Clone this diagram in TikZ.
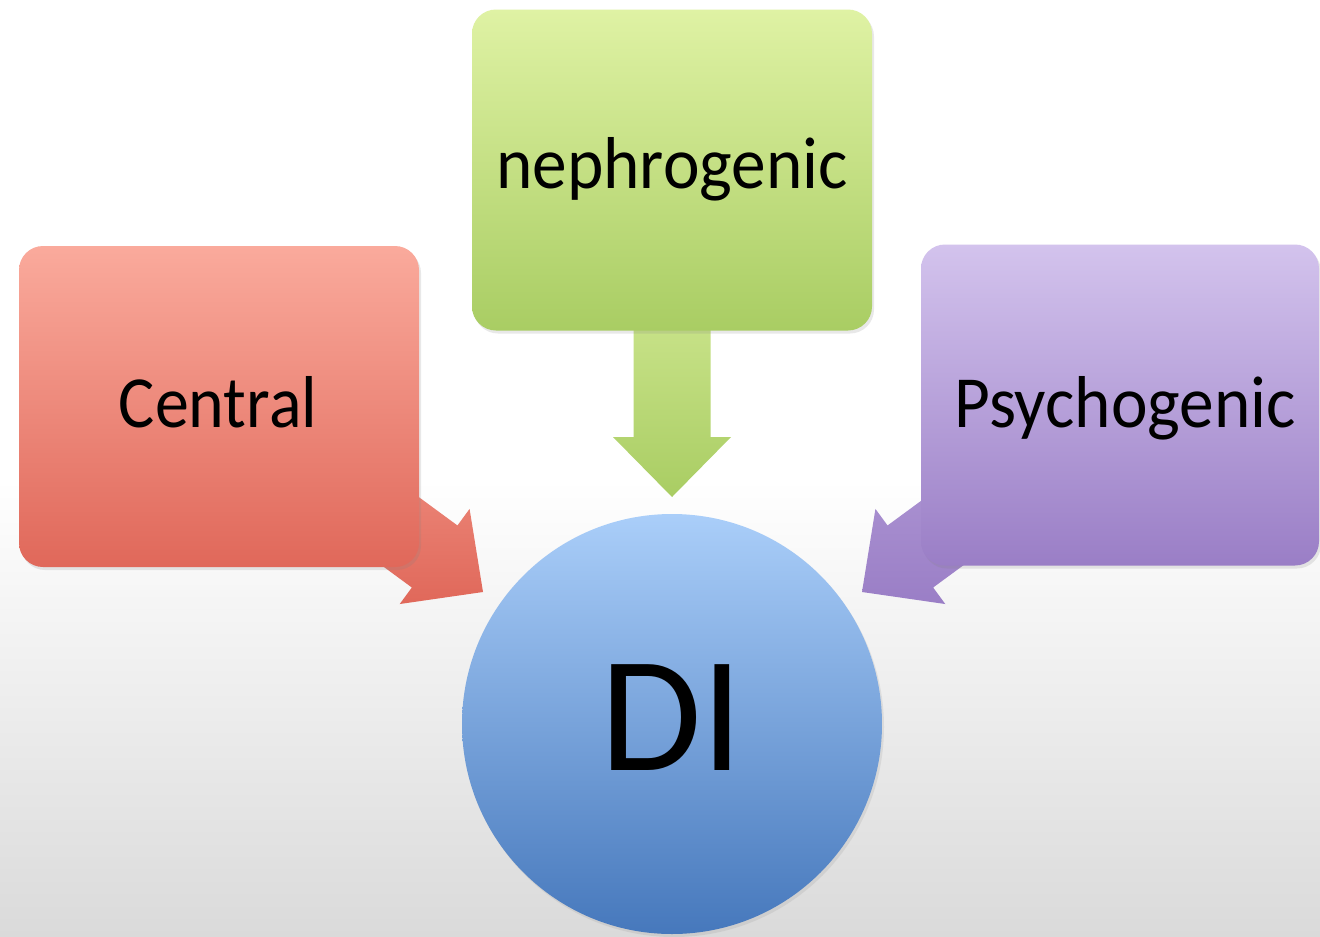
\documentclass[tikz,border=0pt]{standalone}
\usepackage{fontspec}
\setmainfont{Carlito}
\usetikzlibrary{shadows}
\definecolor{redT}{HTML}{FAAA9C}
\definecolor{redB}{HTML}{E0685A}
\definecolor{grnT}{HTML}{DFF2A4}
\definecolor{grnB}{HTML}{A9CD63}
\definecolor{purT}{HTML}{D3C3ED}
\definecolor{purB}{HTML}{9A7EC6}
\definecolor{bluT}{HTML}{AACEF9}
\definecolor{bluB}{HTML}{4678BC}
\definecolor{bgB}{HTML}{DADADA}
\tikzset{
  box/.style={rounded corners=24pt, minimum width=400pt, minimum height=321pt,
    inner sep=0pt, font=\fontsize{70}{80}\selectfont,
    drop shadow={opacity=0.18, shadow xshift=2pt, shadow yshift=-3pt}},
  lbl/.style={inner sep=0pt, font=\fontsize{70}{80}\selectfont},
  blockarrow/.style={draw=none},
}
\newcommand{\blockarrowshape}{(0,0) -- (-60,-59) -- (-60,-38.5) -- (-215,-38.5) -- (-215,38.5) -- (-60,38.5) -- (-60,59) -- cycle}
\begin{document}
\begin{tikzpicture}[x=1pt,y=-1pt]
\useasboundingbox (0,0) rectangle (1320,937);
% background
\fill[white] (0,0) rectangle (1320,480);
\shade[top color=white, bottom color=bgB] (0,479) rectangle (1320,937);
% arrows (under boxes)
\coordinate (tipR) at (483,592);
\coordinate (tipP) at (862,592);
\coordinate (tipG) at (672,497);
\begin{scope}[shift={(tipR)}, rotate=-36.3]
  \shade[blockarrow, top color=redT!60!redB, bottom color=redB] \blockarrowshape;
\end{scope}
\begin{scope}[shift={(tipP)}, rotate=-143.7]
  \shade[blockarrow, top color=purT!40!purB, bottom color=purB] \blockarrowshape;
\end{scope}
\begin{scope}[shift={(tipG)}, rotate=-90]
  \shade[blockarrow, top color=grnT!70!grnB, bottom color=grnB] \blockarrowshape;
\end{scope}
% boxes
\node[box, top color=redT, bottom color=redB] (central) at (219,406.5) {};
\node[box, top color=grnT, bottom color=grnB] (neph) at (672,170) {};
\node[box, top color=purT, bottom color=purB, minimum width=398pt] (psych) at (1120,405) {};
\node[lbl, anchor=base] (centralT) at (218,427) {\scalebox{0.97}[1.05]{Central}};
\node[lbl, anchor=base] (nephT) at (672,188) {\scalebox{0.99}[1.05]{nephrogenic}};
\node[lbl, anchor=base] (psychT) at (1125,427) {\scalebox{0.99}[1.05]{Psychogenic}};
% circle
\node[circle, minimum size=420pt, inner sep=0pt, top color=bluT, bottom color=bluB,
  drop shadow={opacity=0.15, shadow xshift=2pt, shadow yshift=-3pt}] (di) at (672,724) {};
\node[lbl, anchor=base, font=\fontsize{165}{170}\selectfont] (diT) at (672,770) {DI};
\end{tikzpicture}
\end{document}
